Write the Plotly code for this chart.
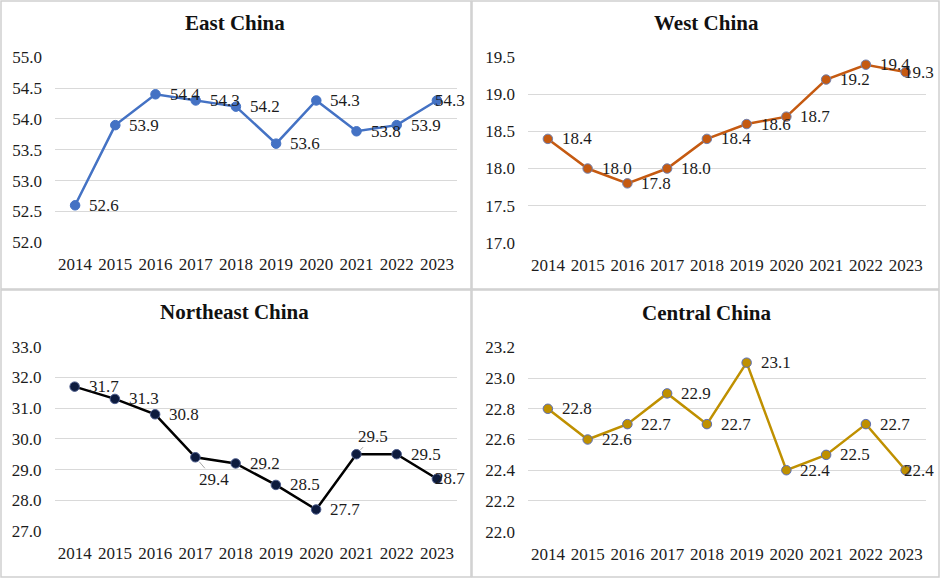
import plotly.graph_objects as go

years = [2014, 2015, 2016, 2017, 2018, 2019, 2020, 2021, 2022, 2023]
east = [52.6, 53.9, 54.4, 54.3, 54.2, 53.6, 54.3, 53.8, 53.9, 54.3]
west = [18.4, 18.0, 17.8, 18.0, 18.4, 18.6, 18.7, 19.2, 19.4, 19.3]
northeast = [31.7, 31.3, 30.8, 29.4, 29.2, 28.5, 27.7, 29.5, 29.5, 28.7]
central = [22.8, 22.6, 22.7, 22.9, 22.7, 23.1, 22.4, 22.5, 22.7, 22.4]
titles = ["East China", "West China", "Northeast China", "Central China"]

W, H = 944, 579
FONT = "Liberation Serif"
TXT = "#1C1C1C"
GRID = "#D9D9D9"

def px(x):
    return x / W

def py(y):
    return 1 - y / H

panels = [
    dict(vals=east, title=titles[0], line="#4472C4", mfill="#4472C4", mline="#4472C4",
         xdom=[px(55), px(457)], ydom=[py(242.3), py(57.3)], rng=[52, 55], dtick=0.5,
         box=(1, 1, 471, 289), tx=235, ty=23),
    dict(vals=west, title=titles[1], line="#C55A11", mfill="#C55A11", mline="#7080B0",
         xdom=[px(528), px(925.5)], ydom=[py(242.7), py(57.3)], rng=[17, 19.5], dtick=0.5,
         box=(472, 1, 939, 289), tx=706, ty=23),
    dict(vals=northeast, title=titles[2], line="#000000", mfill="#0D1B3E", mline="#4A5A8A",
         xdom=[px(54.5), px(457)], ydom=[py(531), py(346.7)], rng=[27, 33], dtick=1,
         box=(1, 290, 471, 577), tx=234, ty=311.5),
    dict(vals=central, title=titles[3], line="#BF9000", mfill="#BF9000", mline="#5B6FB8",
         xdom=[px(528), px(925.5)], ydom=[py(531.7), py(347.3)], rng=[22.0, 23.2], dtick=0.2,
         box=(472, 290, 939, 577), tx=706, ty=313),
]

# labels with leader lines: (panel index, point index) -> (ax, ay) pixel offsets
arrow_labels = {(2, 3): (19, 22), (2, 7): (17, -18)}

fig = go.Figure()
annotations = []
shapes = []

for i, p in enumerate(panels):
    n = "" if i == 0 else str(i + 1)
    xa, ya = "x" + n, "y" + n
    fig.add_trace(go.Scatter(
        x=years, y=p["vals"], mode="lines+markers", xaxis=xa, yaxis=ya,
        line=dict(color=p["line"], width=2.5),
        marker=dict(size=9.5, color=p["mfill"], line=dict(color=p["mline"], width=1)),
        showlegend=False, cliponaxis=False, hoverinfo="skip",
    ))
    fig.layout["xaxis" + n] = dict(
        domain=p["xdom"], anchor=ya, type="linear", range=[years[0] - 0.5, years[-1] + 0.5],
        tickmode="array", tickvals=years, ticktext=[str(y) for y in years],
        showgrid=False, zeroline=False, showline=False, ticks="", ticklabelstandoff=10,
        automargin=False,
        tickfont=dict(family=FONT, size=17, color=TXT), fixedrange=True,
    )
    fig.layout["yaxis" + n] = dict(
        domain=p["ydom"], anchor=xa, type="linear", range=p["rng"], dtick=p["dtick"],
        tick0=p["rng"][0], tickformat=".1f", showgrid=True, gridcolor=GRID, gridwidth=1.3,
        zeroline=False, showline=False, ticks="", ticklabelstandoff=12, automargin=False,
        tickfont=dict(family=FONT, size=17, color=TXT), fixedrange=True,
    )
    for j, (yr, v) in enumerate(zip(years, p["vals"])):
        key = (i, j)
        if key in arrow_labels:
            ax, ay = arrow_labels[key]
            annotations.append(dict(
                x=yr, y=v, xref=xa, yref=ya, text=f"{v:.1f}", showarrow=True,
                ax=ax, ay=ay, arrowhead=0, arrowwidth=1, arrowcolor="#A6A6A6", standoff=6,
                font=dict(family=FONT, size=17, color=TXT),
            ))
        else:
            xs = -4 if j == len(years) - 1 else 12
            annotations.append(dict(
                x=yr, y=v, xref=xa, yref=ya, text=f"{v:.1f}", showarrow=False,
                xanchor="left", yanchor="middle", xshift=xs, yshift=0,
                font=dict(family=FONT, size=17, color=TXT),
            ))
    annotations.append(dict(
        x=px(p["tx"]), y=py(p["ty"]), xref="paper", yref="paper", text=f"<b>{p['title']}</b>",
        showarrow=False, xanchor="center", yanchor="middle",
        font=dict(family=FONT, size=21, color="#111111"),
    ))
    x0, y0, x1, y1 = p["box"]
    shapes.append(dict(type="rect", xref="paper", yref="paper",
                       x0=px(x0), x1=px(x1), y0=py(y1), y1=py(y0),
                       line=dict(color="#D0D0D0", width=1.5), fillcolor="rgba(0,0,0,0)", layer="below"))

fig.update_layout(
    template="none",
    width=W, height=H, autosize=False, margin=dict(l=0, r=0, t=0, b=0, pad=0),
    paper_bgcolor="white", plot_bgcolor="white",
    annotations=annotations, shapes=shapes,
    font=dict(family=FONT, color=TXT),
)

fig.write_html(
    "out.html",
    config={"displayModeBar": False, "responsive": False},
    post_script="document.body.style.margin='0';document.body.style.overflow='hidden';",
)
